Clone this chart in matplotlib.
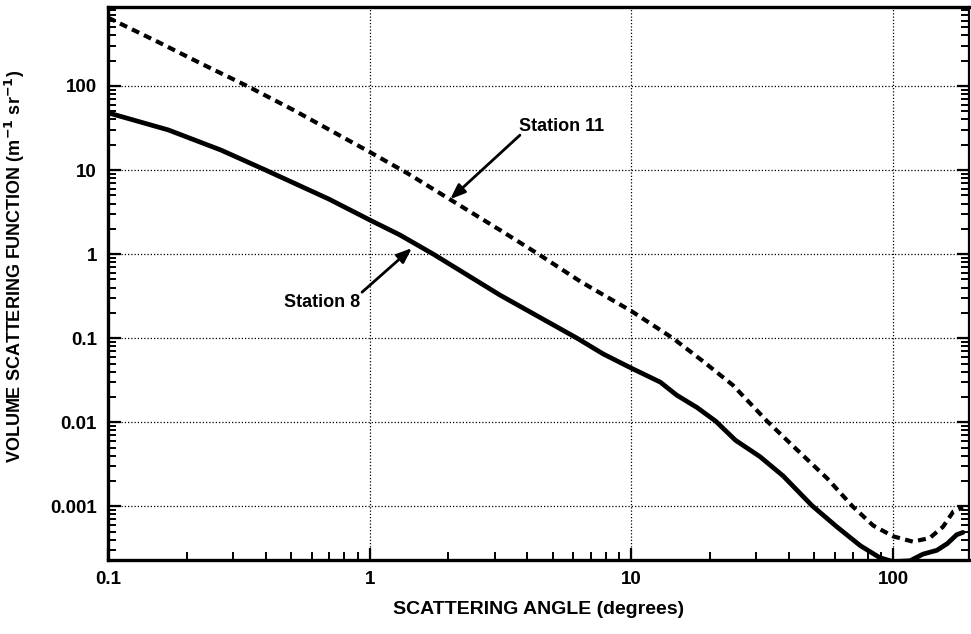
import matplotlib
matplotlib.use("Agg")
import matplotlib.pyplot as plt
from matplotlib.ticker import FixedLocator, LogLocator, NullFormatter, FixedFormatter

plt.rcParams["font.family"] = ["Liberation Sans", "DejaVu Sans"]
plt.rcParams["font.weight"] = "bold"
plt.rcParams["axes.labelweight"] = "bold"
plt.rcParams["mathtext.default"] = "bf"

# scattering angle (degrees) and volume scattering function (m^-1 sr^-1)
station8_angle = [0.1, 0.17, 0.27, 0.4, 0.7, 1.0, 1.3, 1.75, 3.15, 6.2, 7.8, 10,
                  12.9, 14.9, 17.8, 21, 25, 31, 38, 49, 61, 75, 89, 100, 116,
                  130, 147, 161, 175, 185]
station8_vsf = [48, 30, 17.3, 10, 4.5, 2.55, 1.7, 1.0, 0.325, 0.1, 0.065, 0.044,
                0.030, 0.021, 0.0150, 0.0103, 0.0061, 0.0039, 0.0023, 0.00102,
                0.00057, 0.00034, 0.000245, 0.00022, 0.000225, 0.00027, 0.0003,
                0.00036, 0.00046, 0.00049]

station11_angle = [0.1, 0.158, 0.225, 0.34, 0.51, 1.0, 1.39, 3.15, 4.48, 6.4, 10,
                   14.4, 18.8, 24.4, 33, 41.5, 56, 70, 84, 100, 119, 138, 155,
                   170, 185]
station11_vsf = [650, 325, 187, 100, 52, 16.4, 9.2, 1.93, 0.97, 0.47, 0.21, 0.1,
                 0.053, 0.0277, 0.0103, 0.0052, 0.00215, 0.001, 0.00059, 0.00044,
                 0.00038, 0.00042, 0.00057, 0.00087, 0.00097]

x_ticks = [0.1, 1, 10, 100]
x_tick_labels = ["0.1", "1", "10", "100"]
y_ticks = [0.001, 0.01, 0.1, 1, 10, 100]
y_tick_labels = ["0.001", "0.01", "0.1", "1", "10", "100"]

fig = plt.figure(figsize=(9.71, 6.34), dpi=100)
ax = fig.add_axes([108 / 971, 74 / 634, 861 / 971, 553 / 634])

ax.plot(station8_angle, station8_vsf, color="black", lw=3.4,
        solid_capstyle="round", solid_joinstyle="round")
ax.plot(station11_angle, station11_vsf, color="black", lw=3.0,
        dashes=(1.9, 1.3))

ax.set_xscale("log")
ax.set_yscale("log")
ax.set_xlim(0.1, 195)
ax.set_ylim(2.3e-4, 870)

ax.xaxis.set_major_locator(FixedLocator(x_ticks))
ax.xaxis.set_major_formatter(FixedFormatter(x_tick_labels))
ax.xaxis.set_minor_locator(LogLocator(base=10, subs=range(2, 10), numticks=20))
ax.xaxis.set_minor_formatter(NullFormatter())
ax.yaxis.set_major_locator(FixedLocator(y_ticks))
ax.yaxis.set_major_formatter(FixedFormatter(y_tick_labels))
ax.yaxis.set_minor_locator(LogLocator(base=10, subs=range(2, 10), numticks=20))
ax.yaxis.set_minor_formatter(NullFormatter())

ax.tick_params(axis="both", which="both", direction="in", color="black")
ax.tick_params(axis="both", which="major", length=9, width=1.6, labelsize=13.5, pad=8)
ax.tick_params(axis="both", which="minor", length=6, width=1.4)
ax.tick_params(axis="y", which="both", right=True)
ax.tick_params(axis="x", which="both", top=False)

ax.grid(True, which="major", color="black", lw=0.9, linestyle=(0, (1, 1.6)))

for side, w in {"left": 2.4, "bottom": 2.4, "top": 2.4, "right": 1.6}.items():
    ax.spines[side].set_linewidth(w)

ax.set_xlabel("SCATTERING ANGLE (degrees)", fontsize=14, labelpad=9)
ax.set_ylabel("VOLUME SCATTERING FUNCTION (m$^{-1}$ sr$^{-1}$)", fontsize=13)
ax.yaxis.set_label_coords(-0.094, 0.53)

arrow = dict(arrowstyle="-|>,head_length=0.9,head_width=0.35", color="black",
             lw=2.0, shrinkA=0, shrinkB=0)
ax.annotate("", xy=(1.45, 1.18), xytext=(0.935, 0.353), arrowprops=arrow)
ax.text(0.657, 0.268, "Station 8", fontsize=13, ha="center", va="center")
ax.annotate("", xy=(2.03, 4.5), xytext=(3.75, 26), arrowprops=arrow)
ax.text(5.43, 33.4, "Station 11", fontsize=13, ha="center", va="center")

fig.savefig("out.png", dpi=100)
